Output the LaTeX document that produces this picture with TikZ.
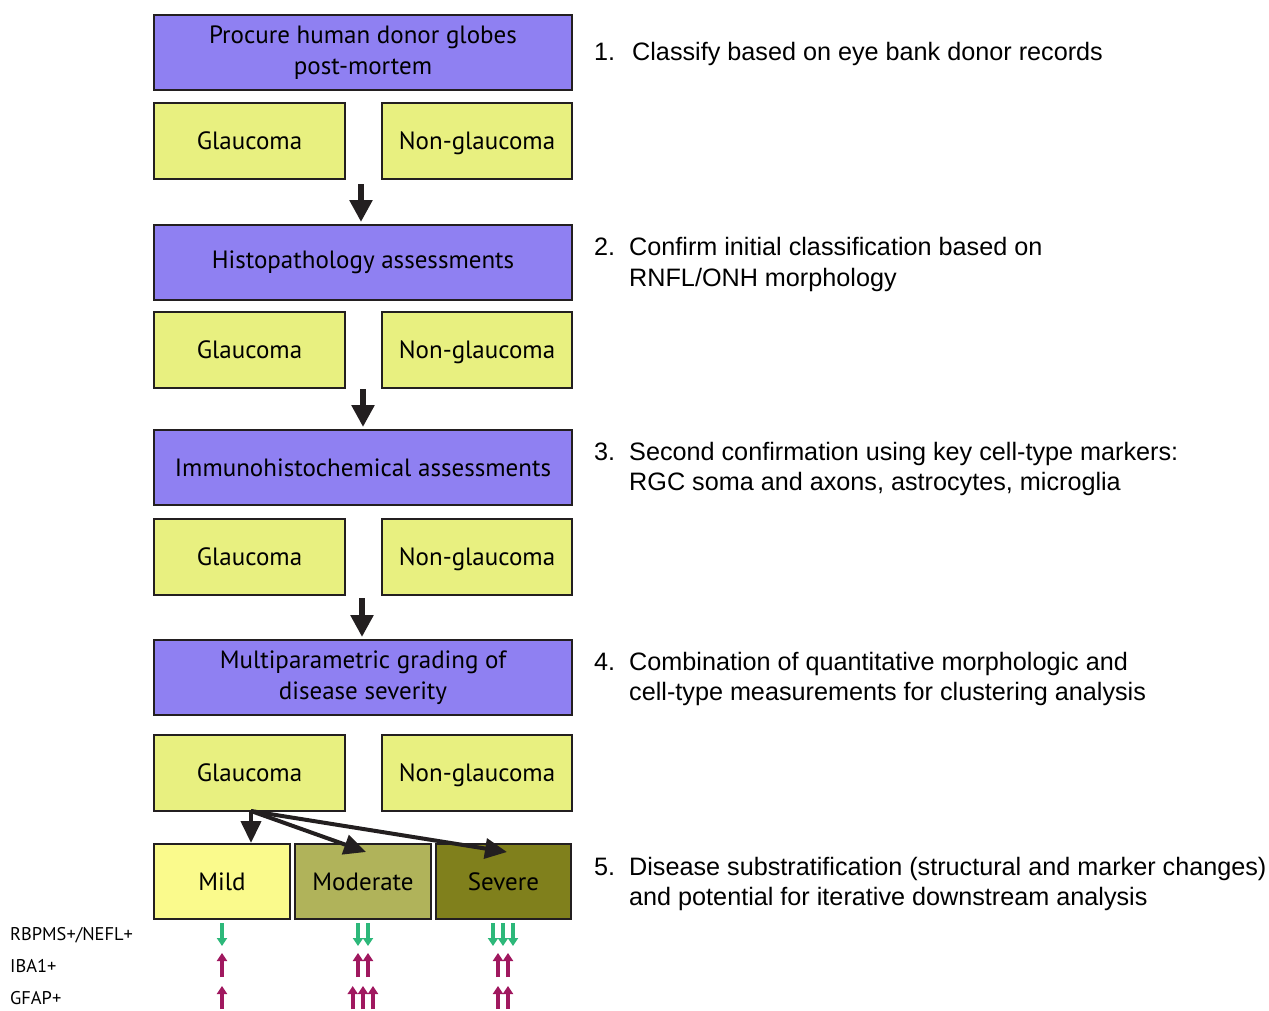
\documentclass[tikz,border=0pt]{standalone}
\usepackage{fontspec}
\setmainfont{Liberation Sans}
\newfontfamily\boxfont{PT Sans}
\usetikzlibrary{arrows.meta}
\definecolor{stroke}{HTML}{231F20}
\definecolor{purp}{HTML}{8F80F2}
\definecolor{ylw}{HTML}{E8F080}
\definecolor{mildc}{HTML}{FAFA8C}
\definecolor{modc}{HTML}{B0B35A}
\definecolor{sevc}{HTML}{80801C}
\definecolor{grn}{HTML}{2DB87A}
\definecolor{mag}{HTML}{A0185F}
\tikzset{
  box/.style={draw=stroke, line width=2pt, inner sep=0pt, align=center,
    font=\boxfont\fontsize{25}{31}\selectfont, minimum height=75pt},
  stage/.style={box, fill=purp, minimum width=418pt},
  stage2/.style={stage, text height=21pt, text depth=41pt},
  cls/.style={box, fill=ylw, minimum width=191pt, minimum height=76pt,
    text height=19pt, text depth=2pt},
  sub/.style={box, fill=#1, minimum width=136pt, text height=19pt, text depth=2pt},
  bigarrow/.style={line width=6pt, draw=stroke, -{Triangle[width=22pt,length=22pt]}},
  splitarrow/.style={line width=4pt, draw=stroke, -{Triangle[width=20pt,length=22pt]}},
  desc/.style={anchor=base west, inner sep=0pt, font=\fontsize{25.2}{31}\selectfont},
  mk/.style={anchor=west, inner sep=0pt, font=\boxfont\fontsize{18.4}{18}\selectfont},
  dn/.style={line width=3.6pt, draw=grn, -{Triangle[width=10pt,length=8pt]}},
  up/.style={line width=3.6pt, draw=mag, -{Triangle[width=10pt,length=8pt]}}
}
\begin{document}
\begin{tikzpicture}[x=1pt,y=-1pt]
\useasboundingbox (0,0) rectangle (1269,1010);
% stages
\node[stage] (s1) at (363,52.5) {\raisebox{-2pt}{\begin{tabular}{@{}c@{}}Procure human donor globes\\[0pt]post-mortem\end{tabular}}};
\node[cls] (g1) at (249.5,141) {Glaucoma};
\node[cls, minimum width=190pt] (n1) at (477,141) {Non-glaucoma};
\node[stage] (s2) at (363,262.5) {Histopathology assessments};
\node[cls] (g2) at (249.5,349.5) {Glaucoma};
\node[cls, minimum width=190pt] (n2) at (477,349.5) {Non-glaucoma};
\node[stage] (s3) at (363,467.5) {Immunohistochemical assessments};
\node[cls] (g3) at (249.5,556.5) {Glaucoma};
\node[cls, minimum width=190pt] (n3) at (477,556.5) {Non-glaucoma};
\node[stage] (s4) at (363,677.5) {\raisebox{-2pt}{\begin{tabular}{@{}c@{}}Multiparametric grading of\\[0pt]disease severity\end{tabular}}};
\node[cls] (g4) at (249.5,772.5) {Glaucoma};
\node[cls, minimum width=190pt] (n4) at (477,772.5) {Non-glaucoma};
\node[sub=mildc] (mild) at (222,881.5) {Mild};
\node[sub=modc] (mod) at (363,881.5) {Moderate};
\node[sub=sevc, minimum width=135pt] (sev) at (503.5,881.5) {Severe};
% stage arrows
\coordinate (a1s) at (361,184);
\coordinate (a1e) at (361,222);
\coordinate (a2s) at (363,389);
\coordinate (a2e) at (363,427);
\coordinate (a3s) at (362,598);
\coordinate (a3e) at (362,637);
\draw[bigarrow] (a1s) -- (a1e);
\draw[bigarrow] (a2s) -- (a2e);
\draw[bigarrow] (a3s) -- (a3e);
% split arrows
\coordinate (sp) at (251,811);
\coordinate (tm) at (251,843);
\coordinate (tmod) at (366,852);
\coordinate (tsev) at (507,852);
\draw[splitarrow] (sp) -- (tm);
\draw[splitarrow] (sp) -- (tmod);
\draw[splitarrow] (sp) -- (tsev);
% descriptions
\node[desc] (n1x) at (594,60) {1.};
\node[desc] (d1) at (632,60) {Classify based on eye bank donor records};
\node[desc] (n2x) at (594,255) {2.};
\node[desc] (d2a) at (629,255) {Confirm initial classification based on};
\node[desc] (d2b) at (629,286) {RNFL/ONH morphology};
\node[desc] (n3x) at (594,460) {3.};
\node[desc] (d3a) at (629,460) {Second confirmation using key cell-type markers:};
\node[desc] (d3b) at (629,490) {RGC soma and axons, astrocytes, microglia};
\node[desc] (n4x) at (594,670) {4.};
\node[desc] (d4a) at (629,670) {Combination of quantitative morphologic and};
\node[desc] (d4b) at (629,700) {cell-type measurements for clustering analysis};
\node[desc] (n5x) at (594,875) {5.};
\node[desc] (d5a) at (629,875) {Disease substratification (structural and marker changes)};
\node[desc] (d5b) at (629,905) {and potential for iterative downstream analysis};
% marker labels
\node[mk] (l1) at (10,935) {RBPMS+/NEFL+};
\node[mk] (l2) at (10,966) {IBA1+};
\node[mk] (l3) at (10,998) {GFAP+};
% marker arrows
\foreach \x [count=\i] in {222,358,368,493,503,513} {
  \coordinate (ds\i) at (\x,923); \coordinate (de\i) at (\x,946);
  \draw[dn] (ds\i) -- (de\i);
}
\foreach \x [count=\i] in {222,358,368,498,508} {
  \coordinate (us\i) at (\x,977); \coordinate (ue\i) at (\x,953);
  \draw[up] (us\i) -- (ue\i);
}
\foreach \x [count=\i] in {222,352.7,363,373,498,508} {
  \coordinate (vs\i) at (\x,1009); \coordinate (ve\i) at (\x,986);
  \draw[up] (vs\i) -- (ve\i);
}
\end{tikzpicture}
\end{document}
